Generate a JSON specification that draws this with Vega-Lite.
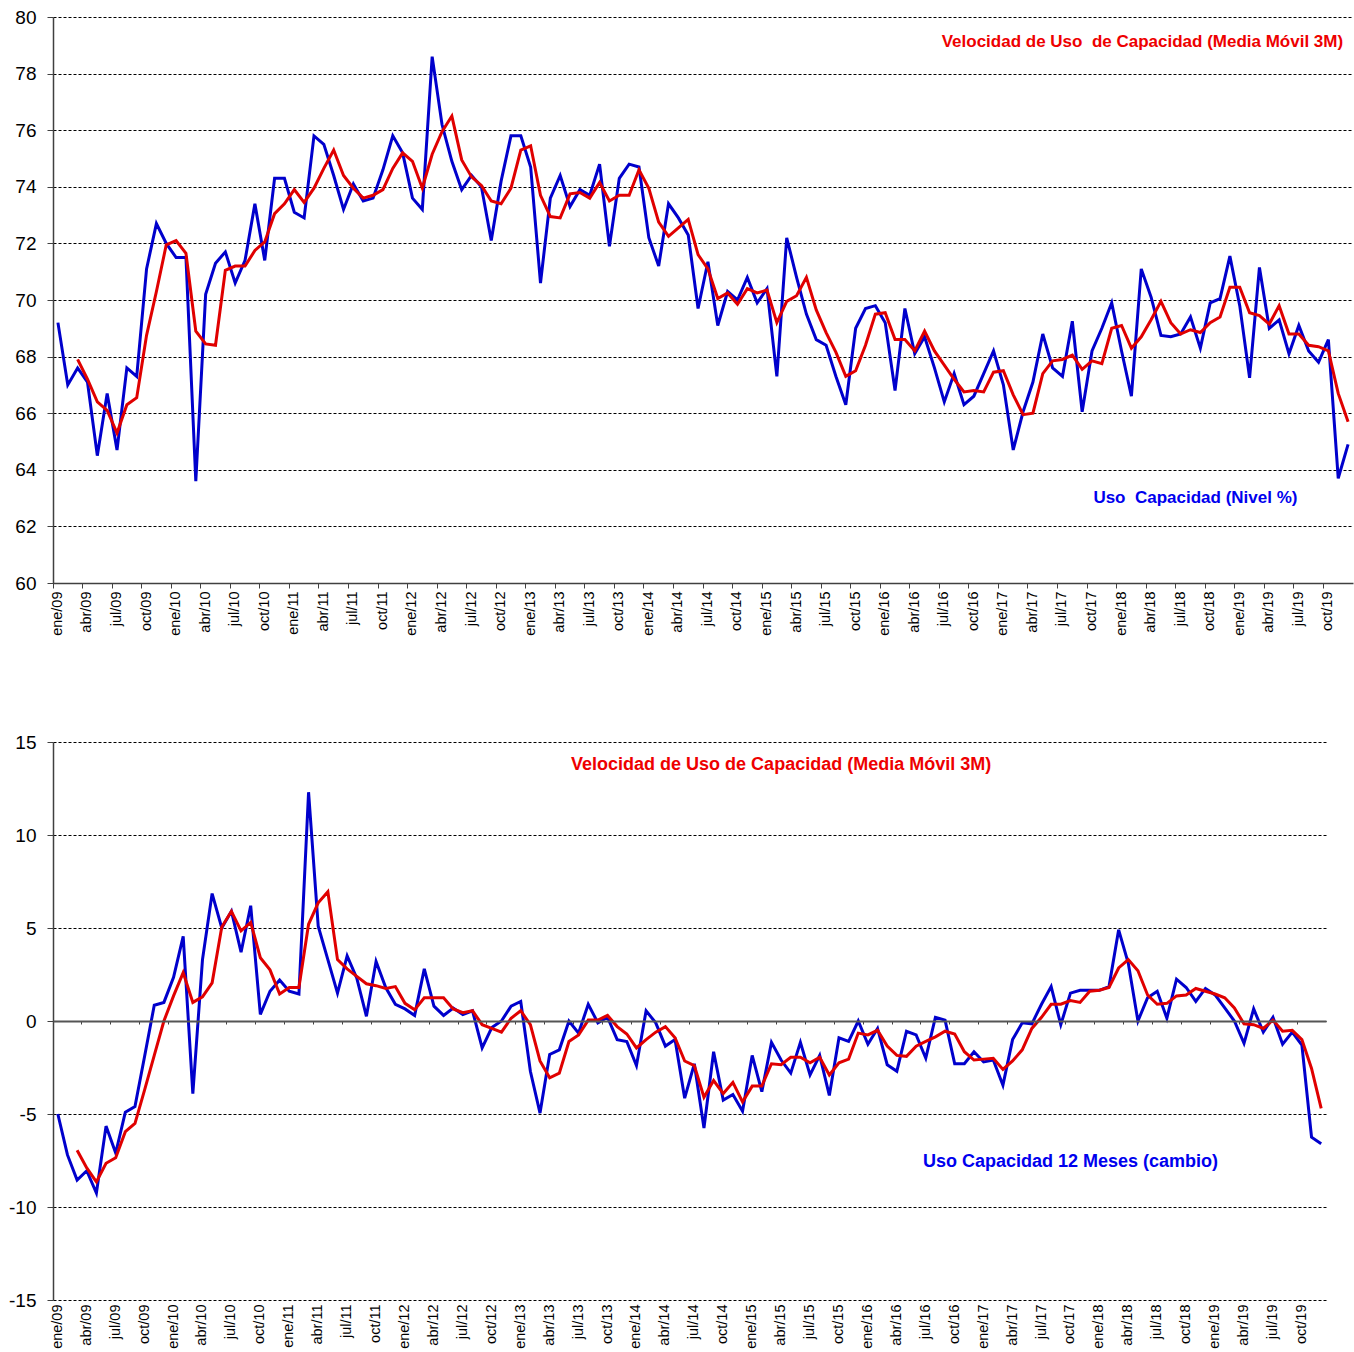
{
"$schema": "https://vega.github.io/schema/vega-lite/v6.json",
"padding": {"left": 3, "top": 8, "right": 0, "bottom": 0},
"background": "white",
"spacing": 97,
"columns": 1,
"align": "none",
"config": {
  "view": {"stroke": null},
  "font": "Liberation Sans",
  "axis": {"labelFont": "Liberation Sans", "labelColor": "#000", "domainColor": "#404040", "tickColor": "#404040", "gridColor": "#000", "gridDash": [3, 2], "gridWidth": 1}
},
"data": {"values": [
{"mes":"ene/09","nivel":69.2,"nivel_mm3":null,"cambio":-5.0,"cambio_mm3":null},
{"mes":"feb/09","nivel":67.0,"nivel_mm3":null,"cambio":-7.2,"cambio_mm3":null},
{"mes":"mar/09","nivel":67.6,"nivel_mm3":67.9,"cambio":-8.55,"cambio_mm3":-6.95},
{"mes":"abr/09","nivel":67.1,"nivel_mm3":67.2,"cambio":-8.05,"cambio_mm3":-7.9},
{"mes":"may/09","nivel":64.5,"nivel_mm3":66.4,"cambio":-9.25,"cambio_mm3":-8.65},
{"mes":"jun/09","nivel":66.7,"nivel_mm3":66.1,"cambio":-5.65,"cambio_mm3":-7.65},
{"mes":"jul/09","nivel":64.7,"nivel_mm3":65.3,"cambio":-7.1,"cambio_mm3":-7.35},
{"mes":"ago/09","nivel":67.6,"nivel_mm3":66.3,"cambio":-4.9,"cambio_mm3":-5.95},
{"mes":"sep/09","nivel":67.3,"nivel_mm3":66.55,"cambio":-4.6,"cambio_mm3":-5.5},
{"mes":"oct/09","nivel":71.1,"nivel_mm3":68.75,"cambio":-1.9,"cambio_mm3":-3.7},
{"mes":"nov/09","nivel":72.7,"nivel_mm3":70.3,"cambio":0.85,"cambio_mm3":-1.85},
{"mes":"dic/09","nivel":72.0,"nivel_mm3":71.95,"cambio":1.0,"cambio_mm3":0.0},
{"mes":"ene/10","nivel":71.5,"nivel_mm3":72.1,"cambio":2.35,"cambio_mm3":1.35},
{"mes":"feb/10","nivel":71.5,"nivel_mm3":71.65,"cambio":4.55,"cambio_mm3":2.6},
{"mes":"mar/10","nivel":63.6,"nivel_mm3":68.9,"cambio":-3.9,"cambio_mm3":1.0},
{"mes":"abr/10","nivel":70.2,"nivel_mm3":68.45,"cambio":3.3,"cambio_mm3":1.3},
{"mes":"may/10","nivel":71.3,"nivel_mm3":68.4,"cambio":6.85,"cambio_mm3":2.05},
{"mes":"jun/10","nivel":71.7,"nivel_mm3":71.05,"cambio":5.0,"cambio_mm3":5.05},
{"mes":"jul/10","nivel":70.6,"nivel_mm3":71.2,"cambio":5.9,"cambio_mm3":5.9},
{"mes":"ago/10","nivel":71.4,"nivel_mm3":71.2,"cambio":3.7,"cambio_mm3":4.85},
{"mes":"sep/10","nivel":73.4,"nivel_mm3":71.75,"cambio":6.2,"cambio_mm3":5.3},
{"mes":"oct/10","nivel":71.4,"nivel_mm3":72.05,"cambio":0.35,"cambio_mm3":3.4},
{"mes":"nov/10","nivel":74.3,"nivel_mm3":73.05,"cambio":1.6,"cambio_mm3":2.75},
{"mes":"dic/10","nivel":74.3,"nivel_mm3":73.4,"cambio":2.2,"cambio_mm3":1.45},
{"mes":"ene/11","nivel":73.1,"nivel_mm3":73.9,"cambio":1.6,"cambio_mm3":1.8},
{"mes":"feb/11","nivel":72.9,"nivel_mm3":73.45,"cambio":1.45,"cambio_mm3":1.8},
{"mes":"mar/11","nivel":75.8,"nivel_mm3":73.95,"cambio":12.3,"cambio_mm3":5.2},
{"mes":"abr/11","nivel":75.5,"nivel_mm3":74.65,"cambio":5.1,"cambio_mm3":6.35},
{"mes":"may/11","nivel":74.4,"nivel_mm3":75.3,"cambio":3.3,"cambio_mm3":6.95},
{"mes":"jun/11","nivel":73.2,"nivel_mm3":74.4,"cambio":1.5,"cambio_mm3":3.3},
{"mes":"jul/11","nivel":74.1,"nivel_mm3":73.95,"cambio":3.5,"cambio_mm3":2.8},
{"mes":"ago/11","nivel":73.5,"nivel_mm3":73.6,"cambio":2.3,"cambio_mm3":2.4},
{"mes":"sep/11","nivel":73.6,"nivel_mm3":73.7,"cambio":0.25,"cambio_mm3":2.0},
{"mes":"oct/11","nivel":74.6,"nivel_mm3":73.9,"cambio":3.2,"cambio_mm3":1.9},
{"mes":"nov/11","nivel":75.8,"nivel_mm3":74.65,"cambio":1.8,"cambio_mm3":1.75},
{"mes":"dic/11","nivel":75.2,"nivel_mm3":75.2,"cambio":0.9,"cambio_mm3":1.85},
{"mes":"ene/12","nivel":73.6,"nivel_mm3":74.9,"cambio":0.65,"cambio_mm3":0.95},
{"mes":"feb/12","nivel":73.2,"nivel_mm3":73.95,"cambio":0.3,"cambio_mm3":0.6},
{"mes":"mar/12","nivel":78.6,"nivel_mm3":75.15,"cambio":2.8,"cambio_mm3":1.25},
{"mes":"abr/12","nivel":76.2,"nivel_mm3":75.95,"cambio":0.8,"cambio_mm3":1.25},
{"mes":"may/12","nivel":74.9,"nivel_mm3":76.5,"cambio":0.3,"cambio_mm3":1.25},
{"mes":"jun/12","nivel":73.9,"nivel_mm3":74.95,"cambio":0.7,"cambio_mm3":0.65},
{"mes":"jul/12","nivel":74.4,"nivel_mm3":74.35,"cambio":0.35,"cambio_mm3":0.45},
{"mes":"ago/12","nivel":74.0,"nivel_mm3":74.05,"cambio":0.55,"cambio_mm3":0.55},
{"mes":"sep/12","nivel":72.1,"nivel_mm3":73.5,"cambio":-1.45,"cambio_mm3":-0.2},
{"mes":"oct/12","nivel":74.2,"nivel_mm3":73.4,"cambio":-0.35,"cambio_mm3":-0.4},
{"mes":"nov/12","nivel":75.8,"nivel_mm3":73.95,"cambio":0.0,"cambio_mm3":-0.6},
{"mes":"dic/12","nivel":75.8,"nivel_mm3":75.3,"cambio":0.8,"cambio_mm3":0.15},
{"mes":"ene/13","nivel":74.7,"nivel_mm3":75.45,"cambio":1.05,"cambio_mm3":0.55},
{"mes":"feb/13","nivel":70.6,"nivel_mm3":73.7,"cambio":-2.7,"cambio_mm3":-0.2},
{"mes":"mar/13","nivel":73.6,"nivel_mm3":72.95,"cambio":-4.95,"cambio_mm3":-2.15},
{"mes":"abr/13","nivel":74.4,"nivel_mm3":72.9,"cambio":-1.8,"cambio_mm3":-3.05},
{"mes":"may/13","nivel":73.3,"nivel_mm3":73.75,"cambio":-1.55,"cambio_mm3":-2.8},
{"mes":"jun/13","nivel":73.9,"nivel_mm3":73.8,"cambio":0.0,"cambio_mm3":-1.1},
{"mes":"jul/13","nivel":73.7,"nivel_mm3":73.6,"cambio":-0.65,"cambio_mm3":-0.75},
{"mes":"ago/13","nivel":74.8,"nivel_mm3":74.15,"cambio":0.9,"cambio_mm3":0.05},
{"mes":"sep/13","nivel":71.9,"nivel_mm3":73.5,"cambio":-0.1,"cambio_mm3":0.05},
{"mes":"oct/13","nivel":74.3,"nivel_mm3":73.7,"cambio":0.2,"cambio_mm3":0.3},
{"mes":"nov/13","nivel":74.8,"nivel_mm3":73.7,"cambio":-1.0,"cambio_mm3":-0.3},
{"mes":"dic/13","nivel":74.7,"nivel_mm3":74.6,"cambio":-1.1,"cambio_mm3":-0.7},
{"mes":"ene/14","nivel":72.2,"nivel_mm3":73.95,"cambio":-2.4,"cambio_mm3":-1.45},
{"mes":"feb/14","nivel":71.2,"nivel_mm3":72.75,"cambio":0.55,"cambio_mm3":-1.0},
{"mes":"mar/14","nivel":73.4,"nivel_mm3":72.25,"cambio":-0.1,"cambio_mm3":-0.6},
{"mes":"abr/14","nivel":72.9,"nivel_mm3":72.55,"cambio":-1.35,"cambio_mm3":-0.3},
{"mes":"may/14","nivel":72.3,"nivel_mm3":72.85,"cambio":-1.0,"cambio_mm3":-0.9},
{"mes":"jun/14","nivel":69.7,"nivel_mm3":71.6,"cambio":-4.15,"cambio_mm3":-2.15},
{"mes":"jul/14","nivel":71.35,"nivel_mm3":71.1,"cambio":-2.3,"cambio_mm3":-2.4},
{"mes":"ago/14","nivel":69.1,"nivel_mm3":70.05,"cambio":-5.75,"cambio_mm3":-4.1},
{"mes":"sep/14","nivel":70.3,"nivel_mm3":70.25,"cambio":-1.65,"cambio_mm3":-3.2},
{"mes":"oct/14","nivel":70.0,"nivel_mm3":69.85,"cambio":-4.25,"cambio_mm3":-3.9},
{"mes":"nov/14","nivel":70.8,"nivel_mm3":70.4,"cambio":-3.95,"cambio_mm3":-3.3},
{"mes":"dic/14","nivel":69.9,"nivel_mm3":70.25,"cambio":-4.85,"cambio_mm3":-4.35},
{"mes":"ene/15","nivel":70.4,"nivel_mm3":70.35,"cambio":-1.85,"cambio_mm3":-3.5},
{"mes":"feb/15","nivel":67.3,"nivel_mm3":69.2,"cambio":-3.8,"cambio_mm3":-3.5},
{"mes":"mar/15","nivel":72.2,"nivel_mm3":69.95,"cambio":-1.15,"cambio_mm3":-2.3},
{"mes":"abr/15","nivel":70.8,"nivel_mm3":70.15,"cambio":-2.1,"cambio_mm3":-2.35},
{"mes":"may/15","nivel":69.5,"nivel_mm3":70.8,"cambio":-2.8,"cambio_mm3":-1.95},
{"mes":"jun/15","nivel":68.6,"nivel_mm3":69.65,"cambio":-1.15,"cambio_mm3":-1.95},
{"mes":"jul/15","nivel":68.4,"nivel_mm3":68.85,"cambio":-2.9,"cambio_mm3":-2.25},
{"mes":"ago/15","nivel":67.3,"nivel_mm3":68.15,"cambio":-1.85,"cambio_mm3":-1.95},
{"mes":"sep/15","nivel":66.3,"nivel_mm3":67.3,"cambio":-4.0,"cambio_mm3":-2.9},
{"mes":"oct/15","nivel":69.0,"nivel_mm3":67.5,"cambio":-0.9,"cambio_mm3":-2.25},
{"mes":"nov/15","nivel":69.7,"nivel_mm3":68.4,"cambio":-1.1,"cambio_mm3":-2.05},
{"mes":"dic/15","nivel":69.8,"nivel_mm3":69.5,"cambio":0.0,"cambio_mm3":-0.65},
{"mes":"ene/16","nivel":69.2,"nivel_mm3":69.55,"cambio":-1.25,"cambio_mm3":-0.75},
{"mes":"feb/16","nivel":66.8,"nivel_mm3":68.6,"cambio":-0.4,"cambio_mm3":-0.5},
{"mes":"mar/16","nivel":69.7,"nivel_mm3":68.6,"cambio":-2.35,"cambio_mm3":-1.35},
{"mes":"abr/16","nivel":68.1,"nivel_mm3":68.2,"cambio":-2.7,"cambio_mm3":-1.85},
{"mes":"may/16","nivel":68.7,"nivel_mm3":68.9,"cambio":-0.55,"cambio_mm3":-1.9},
{"mes":"jun/16","nivel":67.6,"nivel_mm3":68.2,"cambio":-0.75,"cambio_mm3":-1.35},
{"mes":"jul/16","nivel":66.4,"nivel_mm3":67.7,"cambio":-2.0,"cambio_mm3":-1.1},
{"mes":"ago/16","nivel":67.4,"nivel_mm3":67.2,"cambio":0.2,"cambio_mm3":-0.85},
{"mes":"sep/16","nivel":66.3,"nivel_mm3":66.75,"cambio":0.05,"cambio_mm3":-0.55},
{"mes":"oct/16","nivel":66.6,"nivel_mm3":66.8,"cambio":-2.3,"cambio_mm3":-0.7},
{"mes":"nov/16","nivel":67.4,"nivel_mm3":66.75,"cambio":-2.3,"cambio_mm3":-1.65},
{"mes":"dic/16","nivel":68.2,"nivel_mm3":67.45,"cambio":-1.65,"cambio_mm3":-2.1},
{"mes":"ene/17","nivel":67.0,"nivel_mm3":67.5,"cambio":-2.2,"cambio_mm3":-2.05},
{"mes":"feb/17","nivel":64.7,"nivel_mm3":66.65,"cambio":-2.1,"cambio_mm3":-2.0},
{"mes":"mar/17","nivel":66.05,"nivel_mm3":65.95,"cambio":-3.45,"cambio_mm3":-2.6},
{"mes":"abr/17","nivel":67.1,"nivel_mm3":66.0,"cambio":-1.0,"cambio_mm3":-2.15},
{"mes":"may/17","nivel":68.8,"nivel_mm3":67.4,"cambio":-0.1,"cambio_mm3":-1.55},
{"mes":"jun/17","nivel":67.6,"nivel_mm3":67.85,"cambio":-0.15,"cambio_mm3":-0.4},
{"mes":"jul/17","nivel":67.3,"nivel_mm3":67.9,"cambio":0.9,"cambio_mm3":0.2},
{"mes":"ago/17","nivel":69.25,"nivel_mm3":68.05,"cambio":1.85,"cambio_mm3":0.9},
{"mes":"sep/17","nivel":66.05,"nivel_mm3":67.55,"cambio":-0.2,"cambio_mm3":0.9},
{"mes":"oct/17","nivel":68.2,"nivel_mm3":67.85,"cambio":1.5,"cambio_mm3":1.1},
{"mes":"nov/17","nivel":69.0,"nivel_mm3":67.75,"cambio":1.65,"cambio_mm3":1.0},
{"mes":"dic/17","nivel":69.9,"nivel_mm3":69.0,"cambio":1.65,"cambio_mm3":1.6},
{"mes":"ene/18","nivel":68.2,"nivel_mm3":69.1,"cambio":1.65,"cambio_mm3":1.65},
{"mes":"feb/18","nivel":66.6,"nivel_mm3":68.3,"cambio":1.85,"cambio_mm3":1.8},
{"mes":"mar/18","nivel":71.1,"nivel_mm3":68.7,"cambio":4.9,"cambio_mm3":2.85},
{"mes":"abr/18","nivel":70.1,"nivel_mm3":69.3,"cambio":3.1,"cambio_mm3":3.3},
{"mes":"may/18","nivel":68.75,"nivel_mm3":69.95,"cambio":0.0,"cambio_mm3":2.7},
{"mes":"jun/18","nivel":68.7,"nivel_mm3":69.2,"cambio":1.25,"cambio_mm3":1.4},
{"mes":"jul/18","nivel":68.8,"nivel_mm3":68.8,"cambio":1.6,"cambio_mm3":0.9},
{"mes":"ago/18","nivel":69.4,"nivel_mm3":68.95,"cambio":0.15,"cambio_mm3":0.95},
{"mes":"sep/18","nivel":68.3,"nivel_mm3":68.85,"cambio":2.25,"cambio_mm3":1.35},
{"mes":"oct/18","nivel":69.9,"nivel_mm3":69.2,"cambio":1.8,"cambio_mm3":1.4},
{"mes":"nov/18","nivel":70.05,"nivel_mm3":69.4,"cambio":1.05,"cambio_mm3":1.75},
{"mes":"dic/18","nivel":71.55,"nivel_mm3":70.45,"cambio":1.75,"cambio_mm3":1.6},
{"mes":"ene/19","nivel":69.8,"nivel_mm3":70.45,"cambio":1.4,"cambio_mm3":1.45},
{"mes":"feb/19","nivel":67.25,"nivel_mm3":69.55,"cambio":0.7,"cambio_mm3":1.25},
{"mes":"mar/19","nivel":71.15,"nivel_mm3":69.45,"cambio":0.0,"cambio_mm3":0.7},
{"mes":"abr/19","nivel":69.0,"nivel_mm3":69.15,"cambio":-1.2,"cambio_mm3":-0.15},
{"mes":"may/19","nivel":69.3,"nivel_mm3":69.8,"cambio":0.65,"cambio_mm3":-0.2},
{"mes":"jun/19","nivel":68.1,"nivel_mm3":68.8,"cambio":-0.6,"cambio_mm3":-0.4},
{"mes":"jul/19","nivel":69.1,"nivel_mm3":68.8,"cambio":0.2,"cambio_mm3":0.05},
{"mes":"ago/19","nivel":68.2,"nivel_mm3":68.4,"cambio":-1.25,"cambio_mm3":-0.55},
{"mes":"sep/19","nivel":67.8,"nivel_mm3":68.35,"cambio":-0.6,"cambio_mm3":-0.5},
{"mes":"oct/19","nivel":68.6,"nivel_mm3":68.2,"cambio":-1.3,"cambio_mm3":-1.0},
{"mes":"nov/19","nivel":63.7,"nivel_mm3":66.7,"cambio":-6.25,"cambio_mm3":-2.55},
{"mes":"dic/19","nivel":64.9,"nivel_mm3":65.7,"cambio":-6.6,"cambio_mm3":-4.7}
]},
"concat": [
{
  "width": 1300,
  "height": 566,
  "layer": [
    {
      "mark": {"type": "line", "color": "#0000CC", "strokeWidth": 3},
      "encoding": {
        "x": {"field": "mes", "type": "ordinal", "sort": null,
          "scale": {"type": "band", "paddingInner": 0, "paddingOuter": 0,
            "domain": ["ene/09","feb/09","mar/09","abr/09","may/09","jun/09","jul/09","ago/09","sep/09","oct/09","nov/09","dic/09","ene/10","feb/10","mar/10","abr/10","may/10","jun/10","jul/10","ago/10","sep/10","oct/10","nov/10","dic/10","ene/11","feb/11","mar/11","abr/11","may/11","jun/11","jul/11","ago/11","sep/11","oct/11","nov/11","dic/11","ene/12","feb/12","mar/12","abr/12","may/12","jun/12","jul/12","ago/12","sep/12","oct/12","nov/12","dic/12","ene/13","feb/13","mar/13","abr/13","may/13","jun/13","jul/13","ago/13","sep/13","oct/13","nov/13","dic/13","ene/14","feb/14","mar/14","abr/14","may/14","jun/14","jul/14","ago/14","sep/14","oct/14","nov/14","dic/14","ene/15","feb/15","mar/15","abr/15","may/15","jun/15","jul/15","ago/15","sep/15","oct/15","nov/15","dic/15","ene/16","feb/16","mar/16","abr/16","may/16","jun/16","jul/16","ago/16","sep/16","oct/16","nov/16","dic/16","ene/17","feb/17","mar/17","abr/17","may/17","jun/17","jul/17","ago/17","sep/17","oct/17","nov/17","dic/17","ene/18","feb/18","mar/18","abr/18","may/18","jun/18","jul/18","ago/18","sep/18","oct/18","nov/18","dic/18","ene/19","feb/19","mar/19","abr/19","may/19","jun/19","jul/19","ago/19","sep/19","oct/19","nov/19","dic/19"]},
          "axis": {"title": null, "grid": false, "bandPosition": 0, "labelAngle": 270, "labelFontSize": 14.5, "tickSize": 5, "labelPadding": 3, "labelOverlap": false, "domainWidth": 1.5,
            "values": ["ene/09","abr/09","jul/09","oct/09","ene/10","abr/10","jul/10","oct/10","ene/11","abr/11","jul/11","oct/11","ene/12","abr/12","jul/12","oct/12","ene/13","abr/13","jul/13","oct/13","ene/14","abr/14","jul/14","oct/14","ene/15","abr/15","jul/15","oct/15","ene/16","abr/16","jul/16","oct/16","ene/17","abr/17","jul/17","oct/17","ene/18","abr/18","jul/18","oct/18","ene/19","abr/19","jul/19","oct/19"]}},
        "y": {"field": "nivel", "type": "quantitative",
          "scale": {"domain": [60, 80], "nice": false, "zero": false},
          "axis": {"title": null, "grid": true, "values": [60,62,64,66,68,70,72,74,76,78,80], "labelExpr": "'' + datum.value", "labelFontSize": 19, "tickSize": 6, "labelPadding": 11, "minExtent": 46, "maxExtent": 46, "domainWidth": 1.5}}
      }
    },
    {
      "mark": {"type": "line", "color": "#E00000", "strokeWidth": 3},
      "encoding": {
        "x": {"field": "mes", "type": "ordinal", "sort": null},
        "y": {"field": "nivel_mm3", "type": "quantitative"}
      }
    },
    {
      "data": {"values": [{}]},
      "mark": {"type": "text", "align": "right", "baseline": "middle", "fontWeight": "bold", "fontSize": 17, "color": "#EE0000"},
      "encoding": {
        "x": {"datum": "dic/19", "type": "ordinal", "bandPosition": 0},
        "y": {"datum": 79.1, "type": "quantitative"},
        "text": {"value": "Velocidad de Uso \u00a0de Capacidad (Media Móvil 3M)"}
      }
    },
    {
      "data": {"values": [{}]},
      "mark": {"type": "text", "align": "center", "baseline": "middle", "fontWeight": "bold", "fontSize": 17, "color": "#0000EE"},
      "encoding": {
        "x": {"datum": "sep/18", "type": "ordinal", "bandPosition": 0},
        "y": {"datum": 63.0, "type": "quantitative"},
        "text": {"value": "Uso \u00a0Capacidad (Nivel %)"}
      }
    }
  ]
},
{
  "width": 1273,
  "height": 558,
  "resolve": {"axis": {"x": "independent"}},
  "layer": [
    {
      "mark": {"type": "line", "color": "#0000CC", "strokeWidth": 3},
      "encoding": {
        "x": {"field": "mes", "type": "ordinal", "sort": null,
          "scale": {"type": "band", "paddingInner": 0, "paddingOuter": 0,
            "domain": ["ene/09","feb/09","mar/09","abr/09","may/09","jun/09","jul/09","ago/09","sep/09","oct/09","nov/09","dic/09","ene/10","feb/10","mar/10","abr/10","may/10","jun/10","jul/10","ago/10","sep/10","oct/10","nov/10","dic/10","ene/11","feb/11","mar/11","abr/11","may/11","jun/11","jul/11","ago/11","sep/11","oct/11","nov/11","dic/11","ene/12","feb/12","mar/12","abr/12","may/12","jun/12","jul/12","ago/12","sep/12","oct/12","nov/12","dic/12","ene/13","feb/13","mar/13","abr/13","may/13","jun/13","jul/13","ago/13","sep/13","oct/13","nov/13","dic/13","ene/14","feb/14","mar/14","abr/14","may/14","jun/14","jul/14","ago/14","sep/14","oct/14","nov/14","dic/14","ene/15","feb/15","mar/15","abr/15","may/15","jun/15","jul/15","ago/15","sep/15","oct/15","nov/15","dic/15","ene/16","feb/16","mar/16","abr/16","may/16","jun/16","jul/16","ago/16","sep/16","oct/16","nov/16","dic/16","ene/17","feb/17","mar/17","abr/17","may/17","jun/17","jul/17","ago/17","sep/17","oct/17","nov/17","dic/17","ene/18","feb/18","mar/18","abr/18","may/18","jun/18","jul/18","ago/18","sep/18","oct/18","nov/18","dic/18","ene/19","feb/19","mar/19","abr/19","may/19","jun/19","jul/19","ago/19","sep/19","oct/19","nov/19","dic/19"]},
          "axis": {"title": null, "grid": false, "orient": "bottom", "ticks": false, "domain": false, "labelAngle": 270, "labelFontSize": 14.5, "labelPadding": 4, "labelOverlap": false,
            "values": ["ene/09","abr/09","jul/09","oct/09","ene/10","abr/10","jul/10","oct/10","ene/11","abr/11","jul/11","oct/11","ene/12","abr/12","jul/12","oct/12","ene/13","abr/13","jul/13","oct/13","ene/14","abr/14","jul/14","oct/14","ene/15","abr/15","jul/15","oct/15","ene/16","abr/16","jul/16","oct/16","ene/17","abr/17","jul/17","oct/17","ene/18","abr/18","jul/18","oct/18","ene/19","abr/19","jul/19","oct/19"]}},
        "y": {"field": "cambio", "type": "quantitative",
          "scale": {"domain": [-15, 15], "nice": false, "zero": false},
          "axis": {"title": null, "grid": true, "values": [-15,-10,-5,0,5,10,15], "labelExpr": "'' + datum.value", "labelFontSize": 19, "tickSize": 6, "labelPadding": 11, "minExtent": 49.7, "maxExtent": 49.7, "domainWidth": 1.5}}
      }
    },
    {
      "mark": {"type": "line", "color": "#E00000", "strokeWidth": 3},
      "encoding": {
        "x": {"field": "mes", "type": "ordinal", "sort": null,
          "axis": {"title": null, "grid": false, "orient": "bottom", "labels": false, "ticks": true, "tickSize": 3, "bandPosition": 0, "offset": -279, "domain": true, "domainWidth": 2, "domainColor": "#555", "tickColor": "#404040", "zindex": 1,
            "values": ["ene/09","abr/09","jul/09","oct/09","ene/10","abr/10","jul/10","oct/10","ene/11","abr/11","jul/11","oct/11","ene/12","abr/12","jul/12","oct/12","ene/13","abr/13","jul/13","oct/13","ene/14","abr/14","jul/14","oct/14","ene/15","abr/15","jul/15","oct/15","ene/16","abr/16","jul/16","oct/16","ene/17","abr/17","jul/17","oct/17","ene/18","abr/18","jul/18","oct/18","ene/19","abr/19","jul/19","oct/19"]}},
        "y": {"field": "cambio_mm3", "type": "quantitative"}
      }
    },
    {
      "data": {"values": [{}]},
      "mark": {"type": "text", "align": "center", "baseline": "middle", "fontWeight": "bold", "fontSize": 18, "color": "#EE0000"},
      "encoding": {
        "x": {"datum": "abr/15", "type": "ordinal", "axis": null},
        "y": {"datum": 13.75, "type": "quantitative"},
        "text": {"value": "Velocidad de Uso de Capacidad (Media Móvil 3M)"}
      }
    },
    {
      "data": {"values": [{}]},
      "mark": {"type": "text", "align": "center", "baseline": "middle", "fontWeight": "bold", "fontSize": 18, "color": "#0000EE"},
      "encoding": {
        "x": {"datum": "oct/17", "type": "ordinal", "axis": null},
        "y": {"datum": -7.6, "type": "quantitative"},
        "text": {"value": "Uso Capacidad 12 Meses (cambio)"}
      }
    }
  ]
}
]
}
